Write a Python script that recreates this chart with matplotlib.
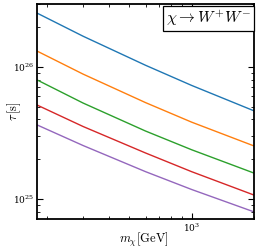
import numpy as np
import matplotlib
matplotlib.use("Agg")
import matplotlib.pyplot as plt

plt.rcParams['mathtext.fontset'] = 'cm'
plt.rcParams['font.family'] = 'serif'
plt.rcParams['font.serif'] = ['DejaVu Serif']

# DM mass [GeV] and lifetime bounds [s]
mass = [180, 300, 600, 1000, 2000]
tau_blue = [2.56e26, 1.71e26, 1.03e26, 7.25e25, 4.65e25]
tau_orange = [1.32e26, 8.83e25, 5.37e25, 3.82e25, 2.52e25]
tau_green = [7.98e25, 5.33e25, 3.27e25, 2.36e25, 1.57e25]
tau_red = [5.15e25, 3.54e25, 2.23e25, 1.61e25, 1.07e25]
tau_purple = [3.64e25, 2.54e25, 1.61e25, 1.18e25, 7.98e24]

fig = plt.figure(figsize=(2.59, 2.5), dpi=100)
ax = fig.add_axes([0.143, 0.124, 0.838, 0.86])

for tau, c in zip([tau_blue, tau_orange, tau_green, tau_red, tau_purple],
                  ['#1f77b4', '#ff7f0e', '#2ca02c', '#d62728', '#9467bd']):
	ax.plot(mass, tau, color=c, lw=1.0)

ax.set_xscale('log')
ax.set_yscale('log')
ax.set_xlim(180, 2000)
ax.set_ylim(7.05e24, 3.0e26)

ax.tick_params(which='both', direction='in', top=True, right=True, labelsize=6.5, pad=2)
ax.tick_params(which='major', length=4, width=0.8)
ax.tick_params(which='minor', length=2, width=0.6)
for s in ax.spines.values():
	s.set_linewidth(1.3)

ax.set_xlabel(r'$m_\chi[\mathrm{GeV}]$', fontsize=9)
ax.set_ylabel(r'$\tau\,[\mathrm{s}]$', fontsize=9)
ax.xaxis.set_label_coords(0.49, -0.055)
ax.yaxis.set_label_coords(-0.065, 0.5)

ax.text(0.985, 0.978, r'$\chi \rightarrow W^{+}W^{-}$', transform=ax.transAxes,
	ha='right', va='top', fontsize=11.5,
	bbox=dict(boxstyle='square,pad=0.2', fc='white', ec='black', lw=0.9))

fig.savefig('out.png', dpi=100)
